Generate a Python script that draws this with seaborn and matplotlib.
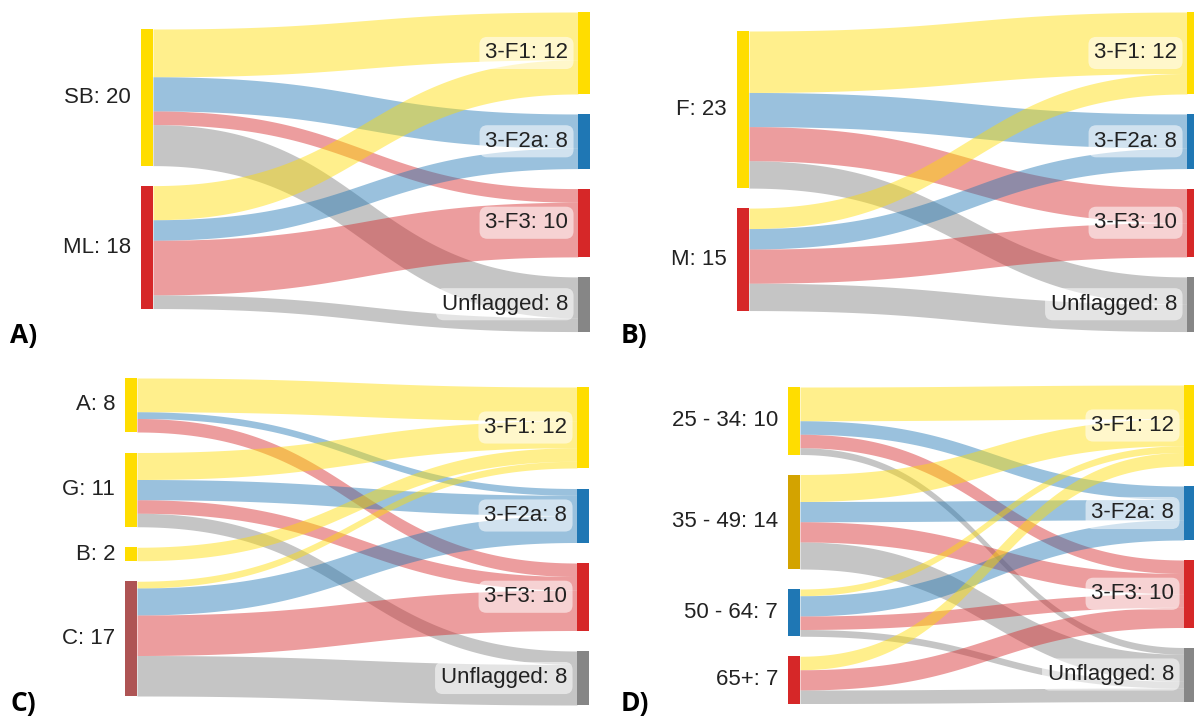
import numpy as np
import matplotlib
matplotlib.use("Agg")
import matplotlib.pyplot as plt
import seaborn as sns

# ---------------- data ----------------
targets = ["3-F1", "3-F2a", "3-F3", "Unflagged"]

A_sources = ["SB", "ML"]
A_flows = [[7, 5, 2, 6],
           [5, 3, 8, 2]]

B_sources = ["F", "M"]
B_flows = [[9, 5, 5, 4],
           [3, 3, 5, 4]]

C_sources = ["A", "G", "B", "C"]
C_flows = [[5, 1, 2, 0],
           [4, 3, 2, 2],
           [2, 0, 0, 0],
           [1, 4, 6, 6]]

D_sources = ["25 - 34", "35 - 49", "50 - 64", "65+"]
D_flows = [[5, 2, 2, 1],
           [4, 3, 3, 4],
           [1, 3, 2, 1],
           [2, 0, 3, 2]]

panel_letters = ["A)", "B)", "C)", "D)"]

# ---------------- style ----------------
sns.set_theme(style="white")
plt.rcParams['font.family'] = ['Liberation Sans', 'DejaVu Sans']

tab = sns.color_palette("tab10")
YEL = "#FFDD00"
BLUE = tab[0]
RED = tab[3]
GREY = "#868686"
LINKGREY = tab[7]
BROWN = "#AE5454"
GOLD = "#D3A300"

tgt_node_colors = [YEL, BLUE, RED, GREY]
tgt_link_colors = [YEL, BLUE, RED, LINKGREY]
TXT = "#222222"

fig = plt.figure(figsize=(11.94, 7.19), dpi=100)
ax = fig.add_axes([0, 0, 1, 1])
ax.set_xlim(0, 1194)
ax.set_ylim(719, 0)
ax.axis("off")


def draw_link(x0, x1, ys0, ys1, yt0, yt1, color):
    t = np.linspace(0, 1, 120)
    xm = (x0 + x1) / 2
    x = (1 - t) ** 3 * x0 + 3 * (1 - t) ** 2 * t * xm + 3 * (1 - t) * t ** 2 * xm + t ** 3 * x1

    def by(a, b):
        return (1 - t) ** 3 * a + 3 * (1 - t) ** 2 * t * a + 3 * (1 - t) * t ** 2 * b + t ** 3 * b

    ax.fill_between(x, by(ys0, yt0), by(ys1, yt1), color=color, alpha=0.45,
                    lw=0, zorder=1)


def sankey(sources, flows, src_colors, xl, xr, ltop, rtop, scale, gap=20, w=12):
    flows = np.array(flows, dtype=float)
    ns, nt = flows.shape
    src_tot = flows.sum(1)
    tgt_tot = flows.sum(0)
    src_y0 = ltop + np.concatenate([[0], np.cumsum(src_tot)[:-1]]) * scale + np.arange(ns) * gap
    tgt_y0 = rtop + np.concatenate([[0], np.cumsum(tgt_tot)[:-1]]) * scale + np.arange(nt) * gap
    s_off = src_y0.copy()
    t_off = tgt_y0.copy()
    for i in range(ns):
        for j in range(nt):
            v = flows[i, j]
            if v == 0:
                continue
            h = v * scale
            draw_link(xl + w, xr, s_off[i], s_off[i] + h, t_off[j], t_off[j] + h,
                      tgt_link_colors[j])
            s_off[i] += h
            t_off[j] += h
    # nodes
    ax.bar([xl] * ns, src_tot * scale, bottom=src_y0, width=w, align="edge",
           color=src_colors, lw=0, zorder=3)
    ax.bar([xr] * nt, tgt_tot * scale, bottom=tgt_y0, width=w, align="edge",
           color=tgt_node_colors, lw=0, zorder=3)
    # labels
    for i in range(ns):
        ax.text(xl - 10, src_y0[i] + src_tot[i] * scale / 2,
                f"{sources[i]}: {int(src_tot[i])}", ha="right", va="center",
                fontsize=16, color=TXT, zorder=4)
    for j in range(nt):
        ax.text(xr - 10, tgt_y0[j] + tgt_tot[j] * scale / 2,
                f"{targets[j]}: {int(tgt_tot[j])}", ha="right", va="center",
                fontsize=16, color=TXT, zorder=4,
                bbox=dict(boxstyle="round,pad=0.25,rounding_size=0.35",
                          fc="white", alpha=0.55, ec="none"))


sankey(A_sources, A_flows, [YEL, RED], xl=141, xr=578, ltop=29, rtop=12, scale=6.83)
sankey(B_sources, B_flows, [YEL, RED], xl=737, xr=1187, ltop=31, rtop=12, scale=6.83)
sankey(C_sources, C_flows, [YEL, YEL, YEL, BROWN], xl=125, xr=577, ltop=378, rtop=387,
       scale=6.75, gap=20.5)
sankey(D_sources, D_flows, [YEL, GOLD, BLUE, RED], xl=788, xr=1184, ltop=387, rtop=385,
       scale=6.75)

for lab, (x, y) in zip(panel_letters, [(10, 336), (621, 336), (10, 703), (621, 703)]):
    ax.text(x, y, lab, fontsize=19, fontweight="bold",
            family=["Open Sans", "DejaVu Sans"],
            ha="left", va="center", color="black")

fig.savefig("out.png", dpi=100)
